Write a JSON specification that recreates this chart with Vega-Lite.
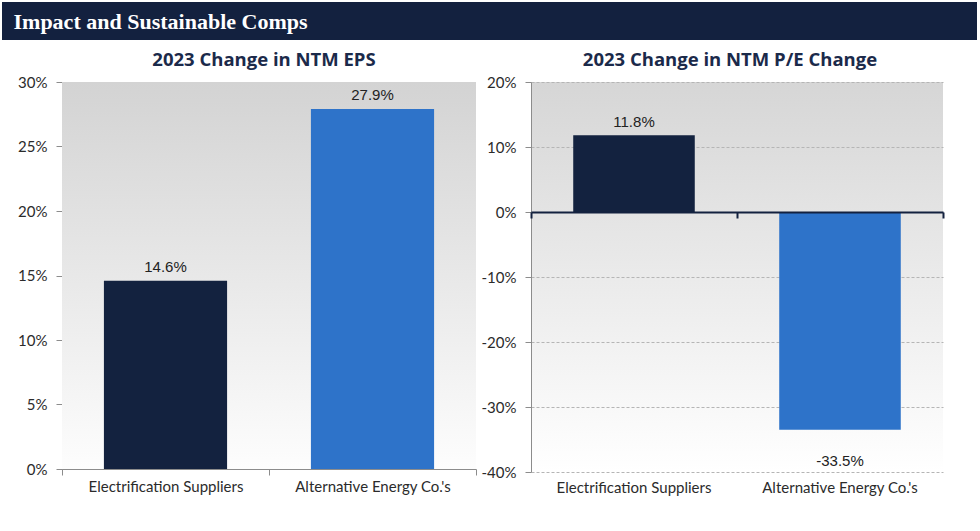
{
  "$schema": "https://vega.github.io/schema/vega-lite/v6.json",
  "background": "white",
  "padding": {"left": 2, "top": 2, "right": 2, "bottom": 2},
  "spacing": 10,
  "columns": 1,
  "align": "none",
  "config": {
    "view": {"stroke": null},
    "locale": {"number": {"decimal": ".", "thousands": ",", "grouping": [3], "currency": ["$", ""], "minus": "-"}},
    "axis": {"labelFont": "Lato", "labelColor": "#2b2b2b", "title": null},
    "title": {"font": "Open Sans", "fontSize": 18.5, "fontWeight": "bold", "color": "#1b2a4a", "offset": 6}
  },
  "concat": [
    {
      "hconcat": [
        {
          "width": 317,
          "height": 38,
          "data": {"values": [{"header": "Impact and Sustainable Comps"}]},
          "layer": [
            {"mark": {"type": "rect", "color": "#13213f"}},
            {"mark": {"type": "text", "font": "Liberation Serif", "fontSize": 22, "fontWeight": "bold", "color": "white", "baseline": "middle", "dy": 1},
             "encoding": {"text": {"field": "header", "type": "nominal"}}}
          ]
        },
        {
          "width": 658,
          "height": 38,
          "data": {"values": [{"header": "Impact and Sustainable Comps"}]},
          "mark": {"type": "rect", "color": "#13213f"}
        }
      ],
      "spacing": 0
    },
    {
      "hconcat": [
        {
          "width": 474,
          "height": 387,
          "title": {"text": "2023 Change in NTM EPS", "dx": 25},
          "data": {"values": [
            {"group": "Electrification Suppliers", "value": 0.146},
            {"group": "Alternative Energy Co.'s", "value": 0.279}
          ]},
          "encoding": {
            "x": {"field": "group", "type": "nominal", "sort": null,
              "scale": {"range": [60, 474], "paddingInner": 0, "paddingOuter": 0},
              "axis": {"labelAngle": 0, "labelFontSize": 15, "labelPadding": 4, "tickBand": "extent", "tickSize": 6, "tickColor": "#8c8c8c", "domainColor": "#8c8c8c"}},
            "y": {"field": "value", "type": "quantitative",
              "scale": {"domain": [0, 0.3], "nice": false},
              "axis": {"values": [0, 0.05, 0.1, 0.15, 0.2, 0.25, 0.3], "format": ".0%", "offset": -60, "labelFontSize": 15, "labelPadding": 9, "tickSize": 6, "tickColor": "#8c8c8c", "domainColor": "#8c8c8c", "gridColor": "#b5b5b5", "gridDash": [3, 2]}}
          },
          "layer": [
            {"mark": {"type": "rect", "color": {"gradient": "linear", "x1": 0, "y1": 0, "x2": 0, "y2": 1, "stops": [{"offset": 0, "color": "#d3d3d3"}, {"offset": 1, "color": "#fdfdfd"}]}},
             "encoding": {"y": {"datum": 0.3, "type": "quantitative"}, "y2": {"datum": 0}}},
            {"mark": {"type": "bar", "width": {"band": 0.595}},
             "encoding": {"color": {"field": "group", "type": "nominal", "sort": null, "scale": {"domain": ["Electrification Suppliers", "Alternative Energy Co.'s"], "range": ["#13223f", "#2e73c9"]}, "legend": null}}},
            {"mark": {"type": "text", "dy": -14, "font": "Liberation Sans", "fontSize": 15, "color": "#222222"},
             "encoding": {"text": {"field": "value", "type": "quantitative", "format": ".1%"}}}
          ]
        },
        {
          "width": 412,
          "height": 390,
          "title": {"text": "2023 Change in NTM P/E Change", "dx": -7},
          "view": {"fill": {"gradient": "linear", "x1": 0, "y1": 0, "x2": 0, "y2": 1, "stops": [{"offset": 0, "color": "#d6d6d6"}, {"offset": 1, "color": "#ffffff"}]}, "stroke": null},
          "data": {"values": [
            {"group": "Electrification Suppliers", "value": 0.118},
            {"group": "Alternative Energy Co.'s", "value": -0.335}
          ]},
          "encoding": {
            "x": {"field": "group", "type": "nominal", "sort": null,
              "scale": {"paddingInner": 0, "paddingOuter": 0}},
            "y": {"field": "value", "type": "quantitative",
              "scale": {"domain": [-0.4, 0.2], "nice": false},
              "axis": {"values": [-0.4, -0.3, -0.2, -0.1, 0, 0.1, 0.2], "format": ".0%", "labelFontSize": 15, "labelPadding": 9, "tickSize": 6, "tickColor": "#8c8c8c", "domainColor": "#8c8c8c", "gridColor": "#b5b5b5", "gridDash": [3, 2], "minExtent": 45, "maxExtent": 45}}
          },
          "resolve": {"axis": {"x": "independent"}},
          "layer": [
            {"mark": {"type": "bar", "width": {"band": 0.59}},
             "encoding": {
               "x": {"field": "group", "type": "nominal", "sort": null, "axis": {"orient": "bottom", "labelAngle": 0, "labelFontSize": 15, "labelPadding": 8, "ticks": false, "domain": false}},
               "color": {"field": "group", "type": "nominal", "sort": null, "scale": {"domain": ["Electrification Suppliers", "Alternative Energy Co.'s"], "range": ["#13223f", "#2e73c9"]}, "legend": null}}},
            {"transform": [{"filter": "datum.value >= 0"}],
             "mark": {"type": "text", "dy": -13, "font": "Liberation Sans", "fontSize": 15, "color": "#222222"},
             "encoding": {
               "x": {"field": "group", "type": "nominal", "sort": null, "axis": {"orient": "top", "offset": -130, "labels": false, "grid": false, "tickBand": "extent", "tickSize": -6, "tickColor": "#13213f", "tickWidth": 2, "domainColor": "#13213f", "domainWidth": 2, "zindex": 1}},
               "text": {"field": "value", "type": "quantitative", "format": ".1%"}}},
            {"transform": [{"filter": "datum.value < 0"}],
             "mark": {"type": "text", "dy": 31, "font": "Liberation Sans", "fontSize": 15, "color": "#222222"},
             "encoding": {
               "x": {"field": "group", "type": "nominal", "sort": null, "axis": null},
               "text": {"field": "value", "type": "quantitative", "format": ".1%"}}}
          ]
        }
      ],
      "spacing": 4
    }
  ]
}
